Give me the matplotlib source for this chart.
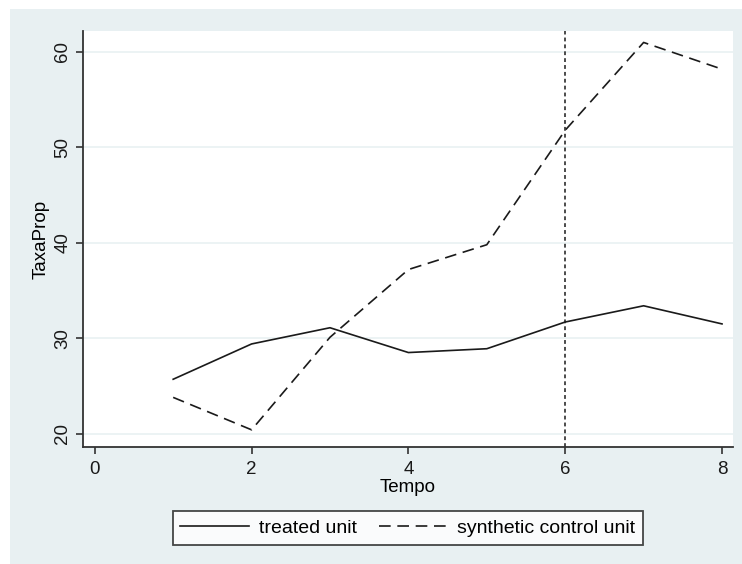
import matplotlib.pyplot as plt
from matplotlib.patches import Rectangle

plt.rcParams['font.family'] = ['Liberation Sans', 'DejaVu Sans']

tempo = [1, 2, 3, 4, 5, 6, 7, 8]
treated = [25.7, 29.4, 31.1, 28.5, 28.9, 31.7, 33.4, 31.5]
synthetic = [23.8, 20.4, 30.1, 37.2, 39.8, 51.8, 61.0, 58.2]
treat_time = 6

bg = '#e8f0f2'
fig = plt.figure(figsize=(7.42, 5.64), dpi=100, facecolor='white')
fig.patches.append(Rectangle((10 / 742, 0), 1, 1 - 9 / 564, transform=fig.transFigure,
                             facecolor=bg, edgecolor='none', zorder=-10))

ax = fig.add_axes([83 / 742, 1 - 447 / 564, 650 / 742, 416 / 564])
ax.set_facecolor('white')

ax.plot(tempo, treated, color='#1a1a1a', lw=1.2, label='treated unit')
ax.plot(tempo, synthetic, color='#1a1a1a', lw=1.2, dashes=(7, 4), label='synthetic control unit')
ax.axvline(treat_time, color='#1a1a1a', lw=1.1, dashes=(2.5, 2))

ax.set_xlim(-0.15, 8.14)
ax.set_ylim(18.6, 62.2)
ax.set_xticks([0, 2, 4, 6, 8])
ax.set_yticks([20, 30, 40, 50, 60])
ax.yaxis.grid(True, color='#eaf2f3', lw=1.3)
ax.set_axisbelow(True)

for s in ['top', 'right']:
    ax.spines[s].set_visible(False)
for s in ['left', 'bottom']:
    ax.spines[s].set_color('#333333')
    ax.spines[s].set_linewidth(1.3)

ax.tick_params(colors='#333333', width=1.2, length=5, labelsize=13.5, labelcolor='#1a1a1a')
ax.tick_params(axis='x', pad=5)
for lab in ax.get_yticklabels():
    lab.set_rotation(90)
    lab.set_va('center')

ax.set_xlabel('Tempo', fontsize=13.5, labelpad=1)
ax.set_ylabel('TaxaProp', fontsize=13.5, labelpad=3)

leg = ax.legend(loc='center', bbox_to_anchor=(408 / 742, 1 - 528 / 564),
                bbox_transform=fig.transFigure, ncol=2, fontsize=14,
                frameon=True, fancybox=False, handlelength=3.5, columnspacing=1.1,
                borderpad=0.4, handletextpad=0.55)
leg.get_frame().set_edgecolor('#1a1a1a')
leg.get_frame().set_linewidth(1.3)

fig.savefig('out.png', dpi=100, facecolor=fig.get_facecolor())
